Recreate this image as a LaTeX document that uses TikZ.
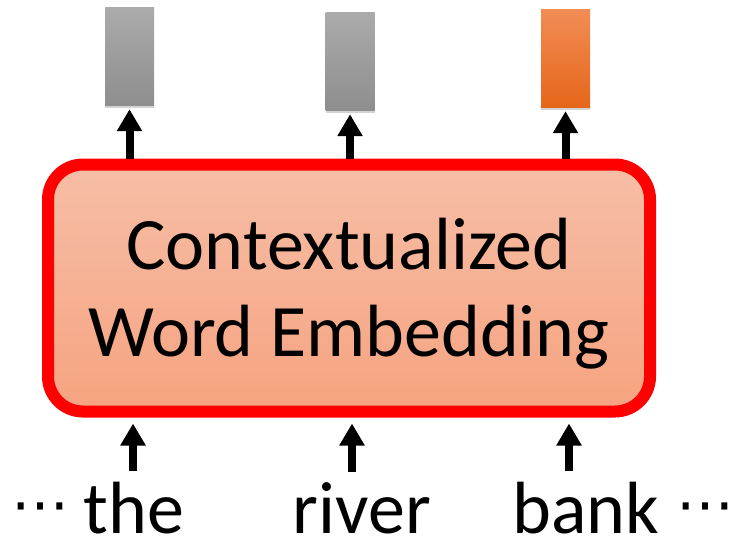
\documentclass[tikz,border=0pt]{standalone}
\usepackage{fontspec}
\setmainfont{Carlito}
\newfontfamily\dotsfont{DejaVu Sans}
\usetikzlibrary{arrows.meta,positioning,shadows}

\definecolor{boxtop}{HTML}{F6BEA6}
\definecolor{boxbot}{HTML}{F6A380}
\definecolor{graytop}{HTML}{ABABAB}
\definecolor{graybot}{HTML}{8E8E8E}
\definecolor{orangetop}{HTML}{F18D55}
\definecolor{orangebot}{HTML}{E6661A}

\tikzset{
  embbox/.style={draw=red, line width=12pt, rounded corners=35pt,
    top color=boxtop, bottom color=boxbot,
    minimum width=602pt, minimum height=247pt},
  boxtext/.style={align=center, inner sep=0pt},
  vec/.style={minimum width=49pt, minimum height=98pt, inner sep=0pt,
    drop shadow={shadow xshift=0pt, shadow yshift=-3pt, opacity=.35}},
  grayvec/.style={vec, top color=graytop, bottom color=graybot},
  orangevec/.style={vec, top color=orangetop, bottom color=orangebot},
  word/.style={anchor=base, inner sep=0pt},
  ellip/.style={inner sep=0pt, font=\dotsfont\fontsize{58}{58}\selectfont},
  arr/.style={line width=8pt, -{Triangle[width=24pt,length=22pt]}}
}

\begin{document}
\begin{tikzpicture}[x=1pt, y=-1pt, font=\fontsize{74}{87}\selectfont]
\useasboundingbox (0,0) rectangle (746,541);

\node[embbox] (emb) at (349,288) {};
\node[boxtext] (emb_text) at ([yshift=-6pt]emb.center) {Contextualized\\Word Embedding};

\node[grayvec] (v_the) at (129.5,56) {};
\node[grayvec] (v_river) at (350,61) {};
\node[orangevec] (v_bank) at (565.5,58) {};

\node[word] (w_the) at (134,533) {the};
\node[word] (w_river) at (362,533) {river};
\node[word] (w_bank) at (586,533) {bank};
\node[ellip] (dots_l) at (40,514) {⋯};
\node[ellip] (dots_r) at (705,514) {⋯};

\draw[arr, shorten >=4pt] (emb.north -| v_the) -- (v_the.south);
\draw[arr, shorten >=4pt] (emb.north -| v_river) -- (v_river.south);
\draw[arr, shorten >=4pt] (emb.north -| v_bank) -- (v_bank.south);

\draw[arr, shorten <=10pt, shorten >=6pt] ([xshift=-1pt]w_the.north) -- ([xshift=-1pt]w_the.north |- emb.south);
\draw[arr, shorten <=10pt, shorten >=6pt] ([xshift=-10pt]w_river.north) -- ([xshift=-10pt]w_river.north |- emb.south);
\draw[arr, shorten <=10pt, shorten >=6pt] ([xshift=-17pt]w_bank.north) -- ([xshift=-17pt]w_bank.north |- emb.south);
\end{tikzpicture}
\end{document}
